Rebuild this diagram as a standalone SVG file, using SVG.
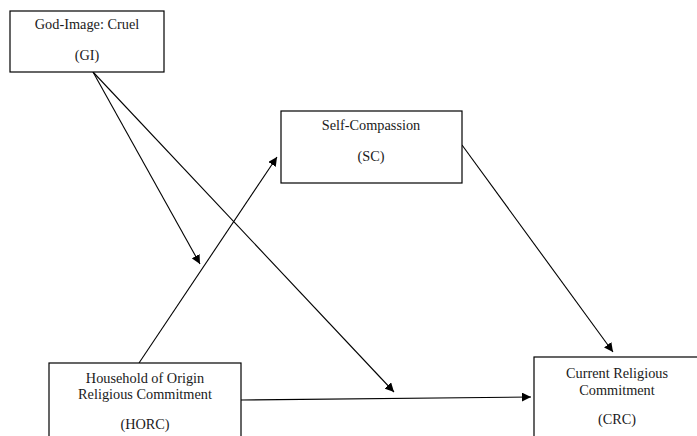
<svg xmlns="http://www.w3.org/2000/svg" width="697" height="436" viewBox="0 0 697 436">
<style>
.box{fill:#fff;stroke:#000;stroke-width:1.2}
.t{font-family:"Liberation Serif","Times New Roman",serif;font-size:14.3px;fill:#1a1a1a;text-anchor:middle}
.c{stroke:#000;stroke-width:1.1;fill:none;marker-end:url(#ah)}
</style>
<defs>
<marker id="ah" viewBox="0 0 10 10" refX="10" refY="5" markerWidth="9" markerHeight="9" markerUnits="userSpaceOnUse" orient="auto">
<path d="M0,0 L10,5 L0,10 z" fill="#000"/>
</marker>
</defs>
<rect width="697" height="436" fill="#fff"/>
<g id="connectors">
<line class="c" x1="93" y1="72" x2="200" y2="264"/>
<line class="c" x1="93" y1="72" x2="394" y2="392"/>
<line class="c" x1="139" y1="363" x2="277" y2="157"/>
<line class="c" x1="462" y1="145" x2="613" y2="352"/>
<line class="c" x1="241" y1="400" x2="531" y2="397"/>
</g>
<g id="GI">
<rect class="box" x="10" y="11" width="154" height="61"/>
<text class="t" x="87" y="29">God-Image: Cruel</text>
<text class="t" x="87" y="60">(GI)</text>
</g>
<g id="SC">
<rect class="box" x="281" y="111" width="181" height="72"/>
<text class="t" x="371" y="130">Self-Compassion</text>
<text class="t" x="371" y="161">(SC)</text>
</g>
<g id="HORC">
<rect class="box" x="49" y="363" width="192" height="80"/>
<text class="t" x="145" y="383">Household of Origin</text>
<text class="t" x="145" y="399">Religious Commitment</text>
<text class="t" x="145" y="429">(HORC)</text>
</g>
<g id="CRC">
<rect class="box" x="534" y="357" width="170" height="86"/>
<text class="t" x="617" y="378">Current Religious</text>
<text class="t" x="617" y="395">Commitment</text>
<text class="t" x="617" y="424">(CRC)</text>
</g>
</svg>
